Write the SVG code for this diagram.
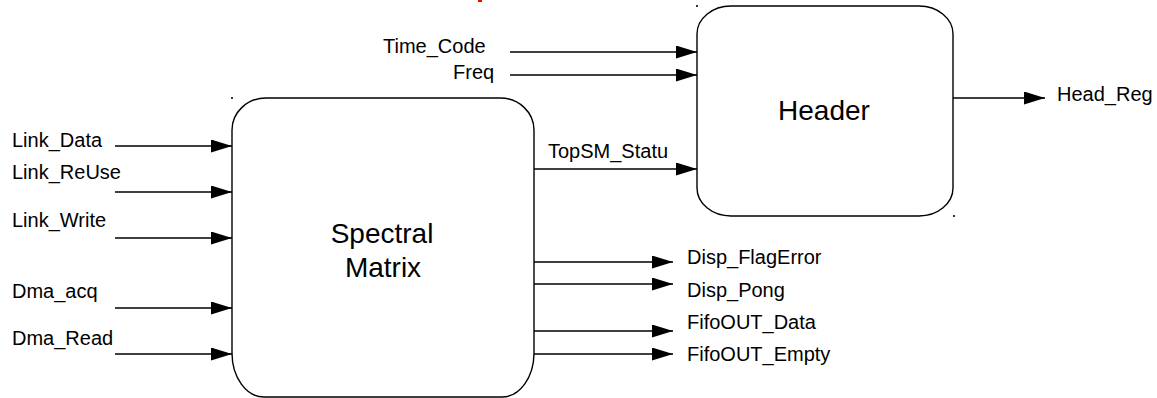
<svg xmlns="http://www.w3.org/2000/svg" width="1157" height="398" viewBox="0 0 1157 398">
  <style>
    .box { fill: #ffffff; stroke: #000000; stroke-width: 1.4; }
    .wire { fill: none; stroke: #000000; stroke-width: 1.3; marker-end: url(#head); }
    .lbl { font-family: "Liberation Sans", Arial, sans-serif; font-size: 20px; fill: #000000; }
    .title { font-family: "Liberation Sans", Arial, sans-serif; font-size: 28px; fill: #000000; text-anchor: middle; }
    .handle { fill: #333333; }
  </style>
  <defs>
    <marker id="head" markerUnits="userSpaceOnUse" markerWidth="22" markerHeight="14" refX="21" refY="6.5" orient="auto">
      <path d="M0,0 L21,6.5 L0,13 Z" fill="#000000"/>
    </marker>
  </defs>

  <rect fill="#ffffff" width="1157" height="398"/>
  <!-- clipped red fragment at the top edge -->
  <rect x="478" y="0" width="4" height="2" fill="#ff0000"/>

  <g id="spectral-matrix">
    <path class="box" d="M266,98 L500,98 A34,32 0 0 1 534,130 L534,353 A32,44 0 0 1 502,397 L264,397 A32,44 0 0 1 232,353 L232,130 A34,32 0 0 1 266,98 Z"/>
    <text class="title" x="382" y="243">Spectral</text>
    <text class="title" x="383" y="277">Matrix</text>
    <rect class="handle" x="231" y="97" width="2" height="2"/>
  </g>

  <g id="header">
    <path class="box" d="M731,6 L919,6 A34,28 0 0 1 953,34 L953,188 A34,28 0 0 1 919,216 L731,216 A34,28 0 0 1 697,188 L697,34 A34,28 0 0 1 731,6 Z"/>
    <text class="title" x="824" y="120">Header</text>
    <rect class="handle" x="696" y="5" width="2" height="2"/>
    <rect class="handle" x="953" y="215" width="2" height="2"/>
  </g>

  <g id="connectors">
    <!-- inputs to Spectral Matrix -->
    <line class="wire" x1="115" y1="146" x2="232" y2="146"/>
    <line class="wire" x1="115" y1="192" x2="232" y2="192"/>
    <line class="wire" x1="115" y1="238" x2="232" y2="238"/>
    <line class="wire" x1="115" y1="308" x2="232" y2="308"/>
    <line class="wire" x1="115" y1="354" x2="232" y2="354"/>
    <!-- inputs to Header -->
    <line class="wire" x1="510" y1="52" x2="697" y2="52"/>
    <line class="wire" x1="510" y1="75" x2="697" y2="75"/>
    <line class="wire" x1="534" y1="169" x2="697" y2="169"/>
    <!-- Header output -->
    <line class="wire" x1="953" y1="98" x2="1045" y2="98"/>
    <!-- Spectral Matrix outputs -->
    <line class="wire" x1="534" y1="262" x2="673" y2="262"/>
    <line class="wire" x1="534" y1="284" x2="673" y2="284"/>
    <line class="wire" x1="534" y1="331" x2="673" y2="331"/>
    <line class="wire" x1="534" y1="354" x2="673" y2="354"/>
  </g>

  <g id="labels">
    <text class="lbl" x="12" y="147">Link_Data</text>
    <text class="lbl" x="12" y="179">Link_ReUse</text>
    <text class="lbl" x="12" y="227">Link_Write</text>
    <text class="lbl" x="12" y="298">Dma_acq</text>
    <text class="lbl" x="12" y="345">Dma_Read</text>
    <text class="lbl" x="383" y="53">Time_Code</text>
    <text class="lbl" x="453" y="79">Freq</text>
    <text class="lbl" x="548" y="158">TopSM_Statu</text>
    <text class="lbl" x="1057" y="101">Head_Reg</text>
    <text class="lbl" x="687" y="264">Disp_FlagError</text>
    <text class="lbl" x="687" y="297">Disp_Pong</text>
    <text class="lbl" x="687" y="329">FifoOUT_Data</text>
    <text class="lbl" x="687" y="361">FifoOUT_Empty</text>
  </g>
</svg>
